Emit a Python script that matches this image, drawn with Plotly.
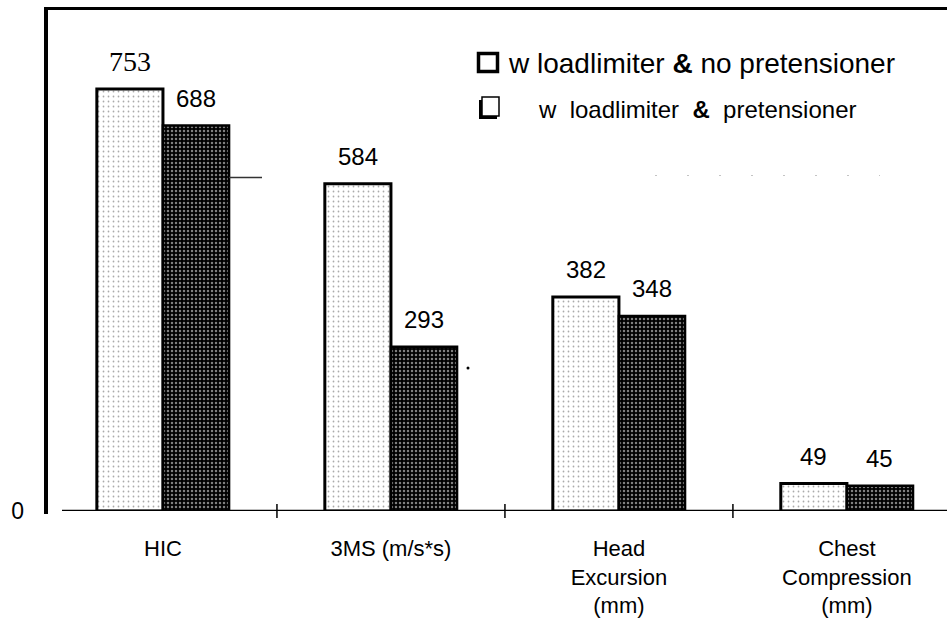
import plotly.graph_objects as go

# Occupant injury measures for two restraint configurations
categories = ["HIC", "3MS (m/s*s)", "Head<br>Excursion<br>(mm)", "Chest<br>Compression<br>(mm)"]
no_pretensioner = [753, 584, 382, 49]
with_pretensioner = [688, 293, 348, 45]
series_names = ["w loadlimiter & no pretensioner", "w loadlimiter & pretensioner"]
y_tick_values = [0]
y_tick_text = ["0"]

# Page geometry
W, H = 947, 624
L, R, T, B = 46, 0, 9, 113
PW, PH = W - L - R, H - T - B
BARGAP = 0.42
Y_MAX = 896


def px_x(px):
    return (px - L) / PW


def px_y(py):
    return (H - B - py) / PH


SANS = "Liberation Sans, Arial, Helvetica, sans-serif"
SERIF = "Liberation Serif, Times New Roman, serif"

fig = go.Figure()

fig.add_trace(go.Bar(
    x=list(range(len(categories))), y=no_pretensioner, name=series_names[0],
    marker=dict(
        color="white",
        line=dict(color="black", width=3),
        pattern=dict(shape=".", fgcolor="#555555", bgcolor="white", size=5, solidity=0.1),
    ),
    showlegend=False,
))
fig.add_trace(go.Bar(
    x=list(range(len(categories))), y=with_pretensioner, name=series_names[1],
    marker=dict(
        color="black",
        line=dict(color="black", width=2.5),
        pattern=dict(shape=".", fgcolor="white", bgcolor="black", size=4, solidity=0.3),
    ),
    showlegend=False,
))

# Value labels above each bar
half = (1 - BARGAP) / 4
annotations = []
for i, v in enumerate(no_pretensioner):
    first = i == 0
    annotations.append(dict(
        x=i - half, y=v, xref="x", yref="y", text=str(v), showarrow=False,
        yanchor="bottom", yshift=10 if first else 12,
        font=dict(family=SERIF if first else SANS, size=28 if first else 24, color="black"),
    ))
for i, v in enumerate(with_pretensioner):
    annotations.append(dict(
        x=i + half, y=v, xref="x", yref="y", text=str(v), showarrow=False,
        yanchor="bottom", yshift=12,
        font=dict(family=SANS, size=24, color="black"),
    ))

# Legend text
annotations.append(dict(
    x=px_x(506), y=px_y(63), xref="paper", yref="paper", xanchor="left", yanchor="middle",
    text=series_names[0].replace("&", "<b>&</b>"), showarrow=False,
    font=dict(family=SANS, size=28, color="black"),
))
annotations.append(dict(
    x=px_x(536), y=px_y(109), xref="paper", yref="paper", xanchor="left", yanchor="middle",
    text=series_names[1].replace("w ", "w\u00a0 ").replace(" & ", "\u00a0 <b>&</b>\u00a0 "),
    showarrow=False,
    font=dict(family=SANS, size=24, color="black"),
))

shapes = []
# Frame: left rule, top rule and baseline
shapes.append(dict(type="line", xref="paper", yref="paper",
                   x0=0, x1=0, y0=px_y(7), y1=px_y(514),
                   line=dict(color="black", width=4)))
shapes.append(dict(type="line", xref="paper", yref="paper",
                   x0=px_x(44), x1=1, y0=px_y(8.5), y1=px_y(8.5),
                   line=dict(color="black", width=3)))
shapes.append(dict(type="line", xref="paper", yref="y",
                   x0=px_x(62), x1=1, y0=0, y1=0,
                   line=dict(color="black", width=2.5)))
# Tick marks between categories
for i in range(len(categories) - 1):
    shapes.append(dict(type="line", xref="x", yref="paper",
                       x0=i + 0.5, x1=i + 0.5, y0=px_y(504), y1=px_y(518),
                       line=dict(color="black", width=1.5)))

# Legend symbols
shapes.append(dict(type="rect", xref="paper", yref="paper",
                   x0=px_x(478.5), x1=px_x(497.5), y0=px_y(53.5), y1=px_y(71.5),
                   fillcolor="white", line=dict(color="black", width=3.5)))
shapes.append(dict(type="rect", xref="paper", yref="paper",
                   x0=px_x(479), x1=px_x(497), y0=px_y(100), y1=px_y(119),
                   fillcolor="black", line=dict(width=0)))
shapes.append(dict(type="rect", xref="paper", yref="paper",
                   x0=px_x(482), x1=px_x(499), y0=px_y(97), y1=px_y(116),
                   fillcolor="white", line=dict(color="black", width=1.5)))

# Faint remnants of a gridline
shapes.append(dict(type="line", xref="paper", yref="paper",
                   x0=px_x(229), x1=px_x(262), y0=px_y(177.5), y1=px_y(177.5),
                   line=dict(color="#333333", width=1.5)))
shapes.append(dict(type="line", xref="paper", yref="paper",
                   x0=px_x(655), x1=px_x(880), y0=px_y(175.5), y1=px_y(175.5),
                   line=dict(color="#c4c4c4", width=1.2, dash="2px,30px")))
shapes.append(dict(type="circle", xref="paper", yref="paper",
                   x0=px_x(466.5), x1=px_x(469.5), y0=px_y(366.5), y1=px_y(369.5),
                   fillcolor="black", line=dict(width=0)))

fig.update_layout(
    width=W, height=H,
    margin=dict(l=L, r=R, t=T, b=B, pad=0),
    paper_bgcolor="white", plot_bgcolor="white",
    barmode="group", bargap=BARGAP, bargroupgap=0,
    annotations=annotations, shapes=shapes,
    font=dict(family=SANS, color="black"),
    xaxis=dict(
        range=[-0.513, 3.439],
        tickmode="array", tickvals=list(range(len(categories))), ticktext=categories,
        showline=False, showgrid=False, zeroline=False, ticks="",
        tickfont=dict(family=SANS, size=22, color="black"),
        ticklabelstandoff=22,
    ),
    yaxis=dict(
        range=[0, Y_MAX],
        tickmode="array", tickvals=y_tick_values, ticktext=y_tick_text,
        showline=False, showgrid=False, zeroline=False, ticks="",
        tickfont=dict(family=SANS, size=23, color="black"),
        ticklabelstandoff=21,
    ),
)

fig.write_html("out.html")
